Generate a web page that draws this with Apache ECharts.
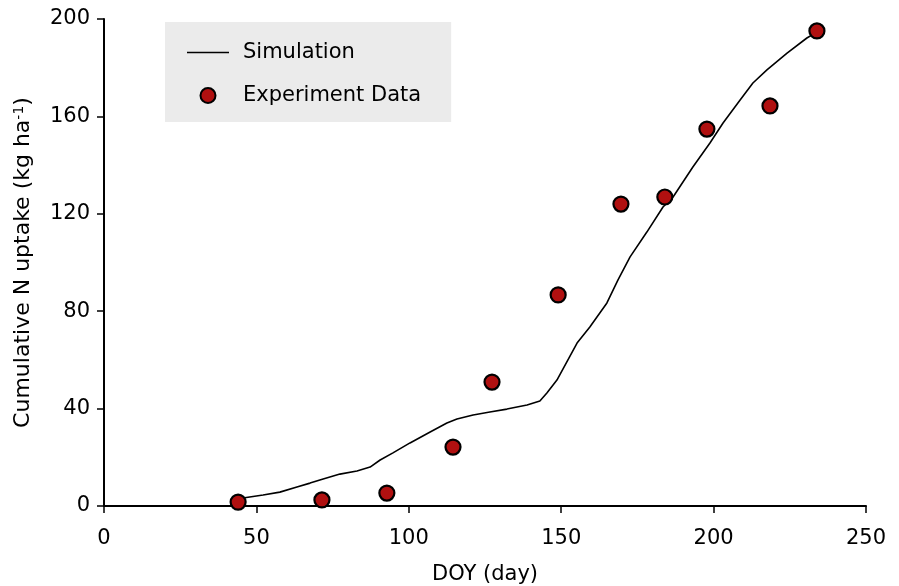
<!DOCTYPE html>
<html>
<head>
<meta charset="utf-8">
<script src="https://cdn.jsdelivr.net/npm/echarts@6/dist/echarts.min.js"></script>
<style>
  html, body { margin: 0; padding: 0; background: #fff; }
  #chart { width: 899px; height: 586px; }
</style>
</head>
<body>
<div id="chart"></div>
<script>
// simulated cumulative N uptake
const simDoy = [44.0, 45.6, 52.2, 57.7, 63.3, 67.6, 71.9, 77.4, 83.0, 87.3, 90.6, 94.8, 100.4, 107.0, 112.5,
  115.8, 121.1, 126.6, 132.2, 138.8, 143.0, 145.3, 148.6, 155.2, 159.4, 165.0, 168.6, 172.6, 178.1, 183.4,
  186.7, 193.2, 198.8, 203.1, 208.7, 212.9, 217.5, 224.1, 230.6, 233.3]
const simN = [2.9, 3.3, 4.5, 5.7, 7.8, 9.4, 11.1, 13.1, 14.4, 16.0, 18.9, 21.8, 25.9, 30.4, 34.1,
  35.7, 37.4, 38.6, 39.8, 41.5, 43.1, 46.4, 51.7, 66.9, 73.5, 83.4, 92.8, 102.3, 112.5, 122.8,
  126.9, 139.2, 149.1, 157.3, 166.7, 173.7, 179.1, 186.0, 192.2, 194.2]

// measured points
const expDoy = [44.0, 71.5, 92.8, 114.5, 127.3, 149.0, 169.6, 184.0, 197.8, 218.5, 233.9]
const expN = [1.6, 2.5, 5.3, 24.2, 50.9, 86.7, 124.0, 126.9, 154.8, 164.3, 195.1]

const xTicks = [0, 50, 100, 150, 200, 250]
const yTicks = [0, 40, 80, 120, 160, 200]

let chart = echarts.init(document.getElementById('chart'))
let font = 'DejaVu Sans'

chart.setOption({
  animation: false,
  textStyle: { fontFamily: font },
  grid: { left: 104, right: 33, top: 19, bottom: 80, outerBoundsMode: 'none', containLabel: false },
  legend: {
    left: 165,
    top: 22,
    orient: 'vertical',
    backgroundColor: '#ebebeb',
    padding: [20, 30, 16, 22],
    itemGap: 22,
    itemWidth: 42,
    itemHeight: 15,
    textStyle: { fontSize: 21, color: '#000', padding: [0, 0, 0, 9], fontFamily: font },
    data: [
      { name: 'Simulation', icon: 'path://M0,0H42V1.5H0Z' },
      'Experiment Data',
    ],
  },
  xAxis: {
    type: 'value',
    min: xTicks[0],
    max: xTicks[xTicks.length - 1],
    interval: 50,
    name: 'DOY (day)',
    nameLocation: 'middle',
    nameGap: 58,
    nameTextStyle: { fontSize: 21, color: '#000', fontFamily: font },
    axisLine: { lineStyle: { color: '#000', width: 2 } },
    axisTick: { show: true, inside: false, length: 7, lineStyle: { color: '#000', width: 1.5 } },
    axisLabel: { fontSize: 21, color: '#000', margin: 22, fontFamily: font },
    splitLine: { show: false },
  },
  yAxis: {
    type: 'value',
    min: yTicks[0],
    max: yTicks[yTicks.length - 1],
    interval: 40,
    name: '{a|Cumulative N uptake (kg ha}{s|-1}{a|)}',
    nameLocation: 'middle',
    nameGap: 70,
    nameTextStyle: {
      rich: {
        a: { fontSize: 22, color: '#000', fontFamily: font },
        s: { fontSize: 14, color: '#000', fontFamily: font, verticalAlign: 'top', padding: [0, 0, 8, 0] },
      },
    },
    axisLine: { show: true, lineStyle: { color: '#000', width: 2 } },
    axisTick: { show: true, inside: false, length: 7, lineStyle: { color: '#000', width: 1.5 } },
    axisLabel: { fontSize: 21, color: '#000', margin: 14, fontFamily: font },
    splitLine: { show: false },
  },
  series: [
    {
      name: 'Simulation',
      type: 'line',
      data: simDoy.map((d, i) => [d, simN[i]]),
      symbol: 'none',
      lineStyle: { color: '#000', width: 1.6 },
      itemStyle: { color: '#000' },
      z: 2,
    },
    {
      name: 'Experiment Data',
      type: 'scatter',
      data: expDoy.map((d, i) => [d, expN[i]]),
      symbol: 'circle',
      symbolSize: 15,
      itemStyle: { color: '#b01010', borderColor: '#000', borderWidth: 2.2, opacity: 1 },
      z: 3,
    },
  ],
})
</script>
</body>
</html>
